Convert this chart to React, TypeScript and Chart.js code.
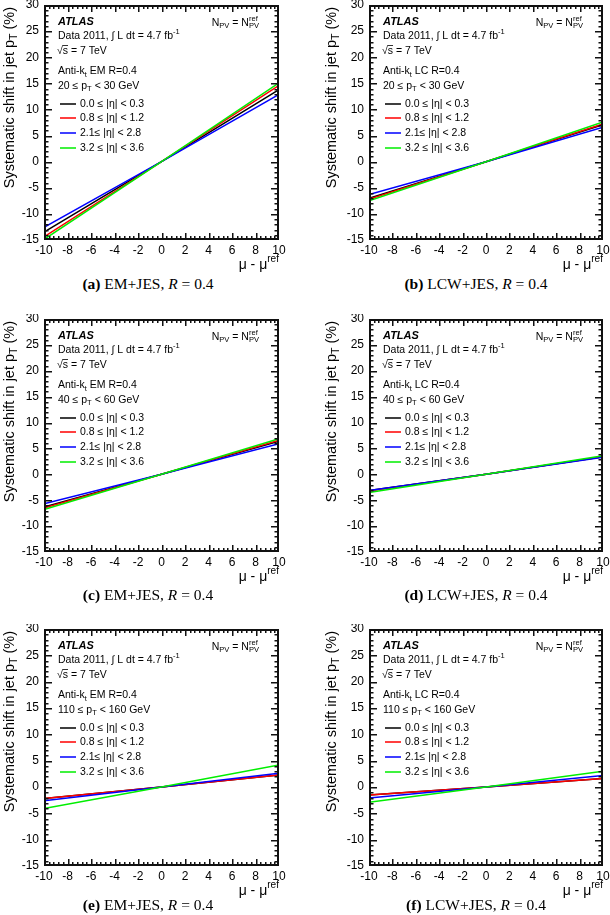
import React, { useEffect, useRef } from "react";
import { Chart, registerables } from "chart.js";
Chart.register(...registerables);

// ---------------- data ----------------
const muValues = [-10, 0, 10];
const etaBins = ["0.0 ≤ |η| < 0.3", "0.8 ≤ |η| < 1.2", "2.1≤ |η| < 2.8", "3.2 ≤ |η| < 3.6"];
const seriesColors = ["#000000", "#ff0000", "#0000ff", "#00ee00"];

// systematic shift (%) at mu - mu_ref = -10, 0, 10 for each eta bin
const shiftEM20 = [[-13.5, 0, 13.8], [-14.4, 0, 14.6], [-12.6, 0, 12.9], [-14.9, 0, 15.1]];
const shiftLC20 = [[-7.0, 0, 7.1], [-7.2, 0, 7.2], [-6.3, 0, 6.6], [-7.5, 0, 7.6]];
const shiftEM40 = [[-6.3, 0, 6.4], [-6.5, 0, 6.6], [-5.7, 0, 5.9], [-6.8, 0, 6.9]];
const shiftLC40 = [[-3.1, 0, 3.4], [-3.2, 0, 3.4], [-3.1, 0, 3.3], [-3.5, 0, 3.6]];
const shiftEM110 = [[-2.2, 0, 2.3], [-2.2, 0, 2.3], [-2.6, 0, 2.6], [-4.1, 0, 4.2]];
const shiftLC110 = [[-1.5, 0, 1.6], [-1.5, 0, 1.6], [-2.1, 0, 2.2], [-2.9, 0, 3.0]];

const xRange = [-10, 10];
const yRange = [-15, 30];
const xStep = 2;
const yStep = 5;

const algoLabels = ["Anti-k_{t} EM R=0.4", "Anti-k_{t} LC R=0.4"];
const ptLabels = ["20 ≤ p_{T} < 30 GeV", "40 ≤ p_{T} < 60 GeV", "110 ≤ p_{T} < 160 GeV"];
const captionLetters = ["(a)", "(b)", "(c)", "(d)", "(e)", "(f)"];
const captionSchemes = ["EM+JES,", "LCW+JES,"];

// ---------------- layout ----------------
type PanelSpec = {
  series: number[][];
  algo: string;
  pt: string;
  letter: string;
  scheme: string;
  left: number; right: number; top: number; bottom: number;
  canvasLeft: number; canvasRight: number;
  titleOffset: number;
  capX: number; capY: number;
};

const rowsY = [
  { top: 5, bottom: 240, cap: 284 },
  { top: 319, bottom: 552, cap: 595 },
  { top: 629, bottom: 866, cap: 905 },
];
const colsX = [
  { left: 44, right: 279, cl: 0, cr: 305, title: 34, cap: 148 },
  { left: 369, right: 603, cl: 325, cr: 610, title: 37, cap: 476 },
];
const seriesGrid = [shiftEM20, shiftLC20, shiftEM40, shiftLC40, shiftEM110, shiftLC110];

const panels: PanelSpec[] = seriesGrid.map((s, i) => {
  const rw = rowsY[Math.floor(i / 2)];
  const cl = colsX[i % 2];
  return {
    series: s,
    algo: algoLabels[i % 2],
    pt: ptLabels[Math.floor(i / 2)],
    letter: captionLetters[i],
    scheme: captionSchemes[i % 2],
    left: cl.left, right: cl.right, top: rw.top, bottom: rw.bottom,
    canvasLeft: cl.cl, canvasRight: cl.cr,
    titleOffset: cl.title,
    capX: cl.cap, capY: rw.cap,
  };
});

const SANS = '"Liberation Sans", Arial, Helvetica, sans-serif';

// ---------------- rich text ----------------
type Seg = { t: string; m: "n" | "sub" | "sup" | "sqrt" };
function parseRich(s: string): Seg[] {
  const out: Seg[] = [];
  let i = 0;
  let buf = "";
  while (i < s.length) {
    const c = s[i];
    if ((c === "_" || c === "^" || c === "√") && s[i + 1] === "{") {
      if (buf) { out.push({ t: buf, m: "n" }); buf = ""; }
      const end = s.indexOf("}", i + 2);
      out.push({ t: s.slice(i + 2, end), m: c === "_" ? "sub" : c === "^" ? "sup" : "sqrt" });
      i = end + 1;
    } else {
      buf += c;
      i++;
    }
  }
  if (buf) out.push({ t: buf, m: "n" });
  return out;
}

function fontStr(size: number, weight: string, style: string) {
  return `${style} ${weight} ${size}px ${SANS}`;
}

function drawRich(
  ctx: CanvasRenderingContext2D,
  text: string,
  x: number,
  y: number,
  size: number,
  opts: { align?: "left" | "right"; weight?: string; style?: string } = {}
): number {
  const segs = parseRich(text);
  const weight = opts.weight || "normal";
  const style = opts.style || "normal";
  const small = size * 0.72;
  const items: { seg: Seg; x: number; w: number }[] = [];
  let cx = 0;
  for (let k = 0; k < segs.length; k++) {
    const sg = segs[k];
    if (sg.m === "n") {
      ctx.font = fontStr(size, weight, style);
      const w = ctx.measureText(sg.t).width;
      items.push({ seg: sg, x: cx, w });
      cx += w;
    } else if (sg.m === "sqrt") {
      ctx.font = fontStr(size, weight, style);
      const w1 = ctx.measureText("√").width;
      const w2 = ctx.measureText(sg.t).width;
      items.push({ seg: sg, x: cx, w: w1 + w2 });
      cx += w1 + w2;
    } else {
      ctx.font = fontStr(small, weight, style);
      const w = ctx.measureText(sg.t).width;
      const next = segs[k + 1];
      if (sg.m === "sub" && next && next.m === "sup") {
        const w2 = ctx.measureText(next.t).width;
        items.push({ seg: sg, x: cx, w });
        items.push({ seg: next, x: cx, w: w2 });
        cx += Math.max(w, w2);
        k++;
      } else {
        items.push({ seg: sg, x: cx, w });
        cx += w;
      }
    }
  }
  const total = cx;
  const x0 = opts.align === "right" ? x - total : x;
  ctx.textBaseline = "middle";
  ctx.textAlign = "left";
  ctx.fillStyle = "#000";
  for (const it of items) {
    const sg = it.seg;
    if (sg.m === "n") {
      ctx.font = fontStr(size, weight, style);
      ctx.fillText(sg.t, x0 + it.x, y);
    } else if (sg.m === "sqrt") {
      ctx.font = fontStr(size, weight, style);
      const w1 = ctx.measureText("√").width;
      ctx.fillText("√", x0 + it.x, y);
      ctx.fillText(sg.t, x0 + it.x + w1, y);
      ctx.fillRect(x0 + it.x + w1 - 0.5, y - size * 0.56, it.w - w1 + 0.5, 0.8);
    } else {
      ctx.font = fontStr(small, weight, style);
      const dy = sg.m === "sub" ? size * 0.3 : -size * 0.38;
      ctx.fillText(sg.t, x0 + it.x, y + dy);
    }
  }
  return total;
}

// ---------------- frame + inward ticks plugin ----------------
const framePlugin = {
  id: "rootFrame",
  afterDraw(chart: any) {
    const ctx: CanvasRenderingContext2D = chart.ctx;
    const area = chart.chartArea;
    const xs = chart.scales.x;
    const ys = chart.scales.y;
    const x1 = Math.round(area.left);
    const x2 = Math.round(area.right);
    const y1 = Math.round(area.top);
    const y2 = Math.round(area.bottom);
    ctx.save();
    ctx.fillStyle = "#111111";
    // frame (slightly heavy, as in the ROOT output)
    ctx.fillRect(x1, y1, x2 - x1, 2);
    ctx.fillRect(x1, y2 - 2, x2 - x1, 2);
    ctx.fillRect(x1, y1, 2, y2 - y1);
    ctx.fillRect(x2 - 2, y1, 2, y2 - y1);
    const nx = Math.round((xRange[1] - xRange[0]) / (xStep / 5));
    for (let k = 0; k <= nx; k++) {
      const v = xRange[0] + k * (xStep / 5);
      let px = Math.round(xs.getPixelForValue(v));
      if (px >= x2 - 1) px = x2 - 2;
      const len = k % 5 === 0 ? 7 : 4;
      ctx.fillRect(px, y2 - len, 1.5, len);
      ctx.fillRect(px, y1, 1.5, len);
    }
    const ny = Math.round((yRange[1] - yRange[0]) / (yStep / 5));
    for (let k = 0; k <= ny; k++) {
      const v = yRange[0] + k * (yStep / 5);
      let py = Math.round(ys.getPixelForValue(v));
      if (py >= y2 - 1) py = y2 - 2;
      const len = k % 5 === 0 ? 8 : 4.5;
      ctx.fillRect(x1, py, len, 1.5);
      ctx.fillRect(x2 - len, py, len, 1.5);
    }
    ctx.restore();
  },
};

// ---------------- annotation plugin ----------------
function makeDecor(p: PanelSpec) {
  return {
    id: "atlasDecor",
    afterDraw(chart: any) {
      const ctx: CanvasRenderingContext2D = chart.ctx;
      const area = chart.chartArea;
      ctx.save();
      const L = area.left;
      const T = area.top;
      drawRich(ctx, "ATLAS", L + 14, T + 17, 11, { weight: "bold", style: "italic" });
      drawRich(ctx, "Data 2011, ∫ L dt = 4.7 fb^{-1}", L + 14, T + 31, 10.5);
      drawRich(ctx, "√{s} = 7 TeV", L + 13, T + 46, 10.5);
      drawRich(ctx, p.algo, L + 14, T + 66.5, 10.5);
      drawRich(ctx, p.pt, L + 14, T + 81, 10.5);
      drawRich(ctx, "N_{PV} = N_{PV}^{ref}", area.right - 20, T + 18, 10.5, { align: "right" });

      chart.data.datasets.forEach((ds: any, i: number) => {
        const yy = Math.round(T + 98.5 + i * 14.8);
        ctx.fillStyle = ds.borderColor;
        ctx.fillRect(L + 16, yy - 0.75, 16, 1.5);
        drawRich(ctx, ds.label, L + 36, yy, 10.5);
      });

      drawRich(ctx, "μ - μ^{ref}", area.right, area.bottom + 25, 14, { align: "right" });
      ctx.save();
      ctx.translate(area.left - p.titleOffset, area.top);
      ctx.rotate(-Math.PI / 2);
      drawRich(ctx, "Systematic shift in jet p_{T} (%)", -2, 0, 14.5, { align: "right" });
      ctx.restore();
      ctx.restore();
    },
  };
}

// ---------------- components ----------------
function Panel({ p }: { p: PanelSpec }) {
  const ref = useRef<HTMLCanvasElement | null>(null);
  const cw = p.canvasRight - p.canvasLeft;
  const ctop = p.top - 5;
  const cbottom = p.bottom + 34;
  const ch = cbottom - ctop;
  useEffect(() => {
    if (!ref.current) return;
    const chart = new Chart(ref.current, {
      type: "scatter",
      data: {
        datasets: p.series.map((vals, i) => ({
          label: etaBins[i],
          data: muValues.map((m, j) => ({ x: m, y: vals[j] })),
          showLine: true,
          borderColor: seriesColors[i],
          backgroundColor: seriesColors[i],
          borderWidth: 1.5,
          pointRadius: 0,
          order: p.series.length - i,
        })),
      },
      options: {
        animation: false,
        responsive: false,
        maintainAspectRatio: false,
        layout: { padding: { top: 5, right: p.canvasRight - p.right, left: 0, bottom: 0 } },
        plugins: { legend: { display: false }, tooltip: { enabled: false }, title: { display: false } },
        scales: {
          x: {
            type: "linear",
            min: xRange[0],
            max: xRange[1],
            grid: { display: false, drawTicks: false, tickLength: 0 },
            border: { display: false },
            ticks: { stepSize: xStep, padding: 3, color: "#000", font: { family: SANS, size: 12 }, autoSkip: false, maxRotation: 0 },
            afterFit: (s: any) => { s.height = 34; s.paddingLeft = 0; s.paddingRight = 0; },
          },
          y: {
            type: "linear",
            min: yRange[0],
            max: yRange[1],
            grid: { display: false, drawTicks: false, tickLength: 0 },
            border: { display: false },
            ticks: { stepSize: yStep, padding: 5, color: "#000", font: { family: SANS, size: 12 }, autoSkip: false },
            afterFit: (s: any) => { s.width = p.left - p.canvasLeft; s.paddingTop = 0; s.paddingBottom = 0; },
          },
        },
      },
      plugins: [framePlugin, makeDecor(p)],
    } as any);
    return () => chart.destroy();
  }, []);
  return (
    <canvas
      ref={ref}
      width={cw}
      height={ch}
      style={{ position: "absolute", left: p.canvasLeft, top: ctop, width: cw, height: ch }}
    />
  );
}

function Caption({ p }: { p: PanelSpec }) {
  return (
    <div
      style={{
        position: "absolute",
        left: p.capX - 110,
        width: 220,
        top: p.capY - 10,
        height: 20,
        lineHeight: "20px",
        textAlign: "center",
        fontFamily: '"Liberation Serif", "Times New Roman", serif',
        fontSize: 15.5,
        color: "#000",
        whiteSpace: "nowrap",
      }}
    >
      <b>{p.letter}</b> {p.scheme} <i>R</i> = 0.4
    </div>
  );
}

export default function App() {
  return (
    <div style={{ position: "absolute", left: 0, top: 0, width: 610, height: 915, background: "#fff", overflow: "hidden" }}>
      {panels.map((p, i) => (
        <React.Fragment key={i}>
          <Panel p={p} />
          <Caption p={p} />
        </React.Fragment>
      ))}
    </div>
  );
}
